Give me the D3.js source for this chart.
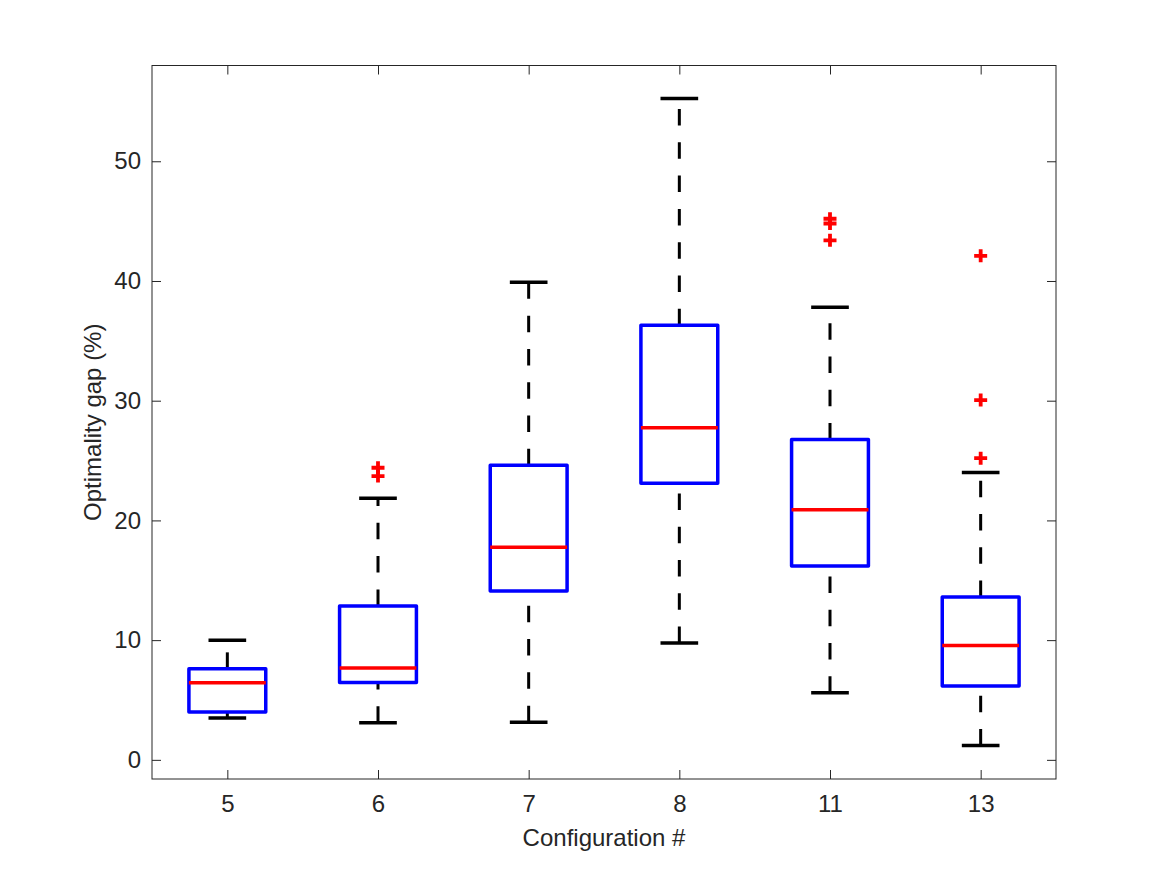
<!DOCTYPE html>
<html>
<head>
<meta charset="utf-8">
<script src="https://cdn.jsdelivr.net/npm/d3@7/dist/d3.min.js"></script>
<style>
  html, body { margin: 0; padding: 0; background: #fff; }
  svg { display: block; }
  text { font-family: "Liberation Sans", Arial, Helvetica, sans-serif; fill: #262626; }
</style>
</head>
<body>
<svg id="chart" width="1167" height="875"></svg>
<script>
// ---- Data ----
const categories   = ["5", "6", "7", "8", "11", "13"];
const lowerWhisker = [3.5, 3.1, 3.15, 9.75, 5.6, 1.19];
const q1           = [4.0, 6.47, 14.1, 23.1, 16.2, 6.17];
const median       = [6.45, 7.67, 17.75, 27.75, 20.9, 9.55];
const q3           = [7.6, 12.86, 24.6, 36.3, 26.75, 13.6];
const upperWhisker = [10.0, 21.85, 39.9, 55.25, 37.8, 24.0];
const outliers     = [[], [24.4, 23.7], [], [], [45.2, 44.8, 43.4], [42.1, 30.05, 25.2]];
const yTicks       = [0, 10, 20, 30, 40, 50];
const yDomain      = [-1.6, 58];
const xLabel = "Configuration #";
const yLabel = "Optimality gap (%)";

// ---- Layout ----
const mLeft = 152, mRight = 1056, mTop = 65.5, mBottom = 779;
const fontSize = "24px";
const svg = d3.select("#chart");

const x = d3.scaleLinear().domain([0.5, categories.length + 0.5]).range([mLeft, mRight]);
const y = d3.scaleLinear().domain(yDomain).range([mBottom, mTop]);
const step = x(2) - x(1);
const boxW = step * 0.51;
const capW = step * 0.25;
const axisColor = "#262626";

const data = categories.map((c, i) => ({
  cat: c, pos: i + 1,
  lo: lowerWhisker[i], q1: q1[i], med: median[i], q3: q3[i], hi: upperWhisker[i],
  out: outliers[i]
}));

// Axes frame (box on)
svg.append("rect")
  .attr("x", mLeft).attr("y", mTop)
  .attr("width", mRight - mLeft).attr("height", mBottom - mTop)
  .attr("fill", "none").attr("stroke", axisColor).attr("stroke-width", 1);

// Y axis (left) and mirrored ticks (right)
const yAxisL = d3.axisLeft(y).tickValues(yTicks).tickSizeInner(-9).tickSizeOuter(0).tickPadding(11);
const gL = svg.append("g").attr("transform", `translate(${mLeft},0)`).call(yAxisL);
const yAxisR = d3.axisRight(y).tickValues(yTicks).tickSizeInner(-9).tickSizeOuter(0).tickFormat("");
const gR = svg.append("g").attr("transform", `translate(${mRight},0)`).call(yAxisR);

// X axis (bottom) and mirrored ticks (top)
const xAxisB = d3.axisBottom(x).tickValues(data.map(d => d.pos))
  .tickFormat((d, i) => categories[i]).tickSizeInner(-9).tickSizeOuter(0).tickPadding(16);
const gB = svg.append("g").attr("transform", `translate(0,${mBottom})`).call(xAxisB);
const xAxisT = d3.axisTop(x).tickValues(data.map(d => d.pos))
  .tickFormat("").tickSizeInner(-9).tickSizeOuter(0);
const gT = svg.append("g").attr("transform", `translate(0,${mTop})`).call(xAxisT);

[gL, gR, gB, gT].forEach(g => {
  g.select(".domain").remove();
  g.selectAll(".tick line").attr("stroke", axisColor).attr("stroke-width", 1);
  g.selectAll(".tick text").attr("fill", axisColor)
    .style("font-size", fontSize)
    .style("font-family", '"Liberation Sans", Arial, Helvetica, sans-serif');
});

// Axis labels
svg.append("text")
  .attr("x", (mLeft + mRight) / 2).attr("y", 846)
  .attr("text-anchor", "middle")
  .style("font-size", fontSize)
  .text(xLabel);
svg.append("text")
  .attr("transform", `translate(101,${(mTop + mBottom) / 2}) rotate(-90)`)
  .attr("text-anchor", "middle")
  .style("font-size", fontSize)
  .text(yLabel);

// Boxes
const gBox = svg.append("g");
const groups = gBox.selectAll("g.box").data(data).join("g").attr("class", "box");

// whiskers (dashed), drawn from lower value to higher value
groups.append("line")
  .attr("x1", d => x(d.pos)).attr("x2", d => x(d.pos))
  .attr("y1", d => y(d.q3)).attr("y2", d => y(d.hi))
  .attr("stroke", "#000").attr("stroke-width", 3).attr("stroke-dasharray", "16.5,16.8");
groups.append("line")
  .attr("x1", d => x(d.pos)).attr("x2", d => x(d.pos))
  .attr("y1", d => y(d.lo)).attr("y2", d => y(d.q1))
  .attr("stroke", "#000").attr("stroke-width", 3).attr("stroke-dasharray", "16.5,16.8");

// caps
groups.append("line")
  .attr("x1", d => x(d.pos) - capW / 2).attr("x2", d => x(d.pos) + capW / 2)
  .attr("y1", d => y(d.hi)).attr("y2", d => y(d.hi))
  .attr("stroke", "#000").attr("stroke-width", 3.5);
groups.append("line")
  .attr("x1", d => x(d.pos) - capW / 2).attr("x2", d => x(d.pos) + capW / 2)
  .attr("y1", d => y(d.lo)).attr("y2", d => y(d.lo))
  .attr("stroke", "#000").attr("stroke-width", 3.5);

// box
groups.append("rect")
  .attr("x", d => x(d.pos) - boxW / 2).attr("width", boxW)
  .attr("y", d => y(d.q3)).attr("height", d => y(d.q1) - y(d.q3))
  .attr("fill", "none").attr("stroke", "#0000ff").attr("stroke-width", 3.5)
  .attr("stroke-linejoin", "round");

// median
groups.append("line")
  .attr("x1", d => x(d.pos) - boxW / 2).attr("x2", d => x(d.pos) + boxW / 2)
  .attr("y1", d => y(d.med)).attr("y2", d => y(d.med))
  .attr("stroke", "#ff0000").attr("stroke-width", 3.5);

// outliers (+ markers)
const ms = 6.5;
groups.each(function(d) {
  const gg = d3.select(this);
  d.out.forEach(v => {
    const cx = x(d.pos), cy = y(v);
    gg.append("path")
      .attr("d", `M${cx - ms},${cy}H${cx + ms}M${cx},${cy - ms}V${cy + ms}`)
      .attr("stroke", "#ff0000").attr("stroke-width", 3.8).attr("fill", "none");
  });
});
</script>
</body>
</html>
